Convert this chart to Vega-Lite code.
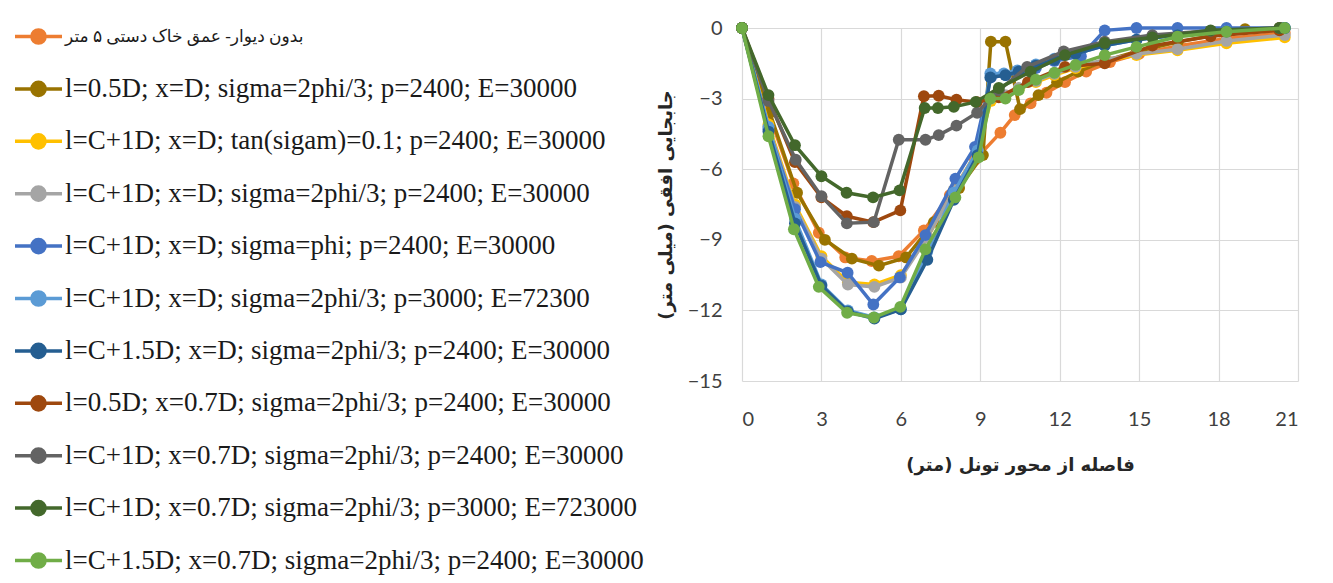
{
  "$schema": "https://vega.github.io/schema/vega-lite/v6.json",
  "width": 556,
  "height": 353,
  "autosize": {"type": "none"},
  "padding": {"left": 742, "top": 28, "right": 35, "bottom": 202},
  "background": "white",
  "config": {
    "view": {"stroke": null},
    "axis": {"gridColor": "#D9D9D9", "gridWidth": 1.2, "domain": false, "ticks": false, "labelFont": "Lato", "labelFontSize": 20, "labelColor": "#404040", "titleFont": "DejaVu Sans", "titleColor": "#262626"}
  },
  "datasets": {
    "d": [
      {"k":1,"s":"بدون دیوار- عمق خاک دستی ۵ متر","x":0,"y":0},{"k":1,"s":"بدون دیوار- عمق خاک دستی ۵ متر","x":0.97,"y":-3.5},{"k":1,"s":"بدون دیوار- عمق خاک دستی ۵ متر","x":1.94,"y":-6.6},{"k":1,"s":"بدون دیوار- عمق خاک دستی ۵ متر","x":2.9,"y":-8.7},{"k":1,"s":"بدون دیوار- عمق خاک دستی ۵ متر","x":3.9,"y":-9.75},{"k":1,"s":"بدون دیوار- عمق خاک دستی ۵ متر","x":4.9,"y":-9.9},{"k":1,"s":"بدون دیوار- عمق خاک دستی ۵ متر","x":5.92,"y":-9.7},{"k":1,"s":"بدون دیوار- عمق خاک دستی ۵ متر","x":6.87,"y":-8.6},{"k":1,"s":"بدون دیوار- عمق خاک دستی ۵ متر","x":7.85,"y":-7.1},{"k":1,"s":"بدون دیوار- عمق خاک دستی ۵ متر","x":8.8,"y":-5.6},{"k":1,"s":"بدون دیوار- عمق خاک دستی ۵ متر","x":9.76,"y":-4.45},{"k":1,"s":"بدون دیوار- عمق خاک دستی ۵ متر","x":10.3,"y":-3.7},{"k":1,"s":"بدون دیوار- عمق خاک دستی ۵ متر","x":10.9,"y":-3.2},{"k":1,"s":"بدون دیوار- عمق خاک دستی ۵ متر","x":11.5,"y":-2.75},{"k":1,"s":"بدون دیوار- عمق خاک دستی ۵ متر","x":12.2,"y":-2.3},{"k":1,"s":"بدون دیوار- عمق خاک دستی ۵ متر","x":13,"y":-1.85},{"k":1,"s":"بدون دیوار- عمق خاک دستی ۵ متر","x":13.9,"y":-1.45},{"k":1,"s":"بدون دیوار- عمق خاک دستی ۵ متر","x":15,"y":-1.1},{"k":1,"s":"بدون دیوار- عمق خاک دستی ۵ متر","x":16.5,"y":-0.75},{"k":1,"s":"بدون دیوار- عمق خاک دستی ۵ متر","x":18.3,"y":-0.45},{"k":1,"s":"بدون دیوار- عمق خاک دستی ۵ متر","x":20.5,"y":-0.2},

      {"k":2,"s":"l=0.5D; x=D; sigma=2phi/3; p=2400; E=30000","x":0,"y":0},{"k":2,"s":"l=0.5D; x=D; sigma=2phi/3; p=2400; E=30000","x":1.05,"y":-3.6},{"k":2,"s":"l=0.5D; x=D; sigma=2phi/3; p=2400; E=30000","x":2.08,"y":-7.0},{"k":2,"s":"l=0.5D; x=D; sigma=2phi/3; p=2400; E=30000","x":3.13,"y":-9.0},{"k":2,"s":"l=0.5D; x=D; sigma=2phi/3; p=2400; E=30000","x":4.15,"y":-9.8},{"k":2,"s":"l=0.5D; x=D; sigma=2phi/3; p=2400; E=30000","x":5.17,"y":-10.1},{"k":2,"s":"l=0.5D; x=D; sigma=2phi/3; p=2400; E=30000","x":6.2,"y":-9.75},{"k":2,"s":"l=0.5D; x=D; sigma=2phi/3; p=2400; E=30000","x":7.25,"y":-8.25},{"k":2,"s":"l=0.5D; x=D; sigma=2phi/3; p=2400; E=30000","x":8.2,"y":-6.8},{"k":2,"s":"l=0.5D; x=D; sigma=2phi/3; p=2400; E=30000","x":9.1,"y":-5.4},{"k":2,"s":"l=0.5D; x=D; sigma=2phi/3; p=2400; E=30000","x":9.4,"y":-0.58},{"k":2,"s":"l=0.5D; x=D; sigma=2phi/3; p=2400; E=30000","x":9.95,"y":-0.58},{"k":2,"s":"l=0.5D; x=D; sigma=2phi/3; p=2400; E=30000","x":10.5,"y":-3.45},{"k":2,"s":"l=0.5D; x=D; sigma=2phi/3; p=2400; E=30000","x":11.2,"y":-2.85},{"k":2,"s":"l=0.5D; x=D; sigma=2phi/3; p=2400; E=30000","x":11.9,"y":-2.3},{"k":2,"s":"l=0.5D; x=D; sigma=2phi/3; p=2400; E=30000","x":12.7,"y":-1.85},{"k":2,"s":"l=0.5D; x=D; sigma=2phi/3; p=2400; E=30000","x":13.7,"y":-1.4},{"k":2,"s":"l=0.5D; x=D; sigma=2phi/3; p=2400; E=30000","x":14.9,"y":-1.0},{"k":2,"s":"l=0.5D; x=D; sigma=2phi/3; p=2400; E=30000","x":16.45,"y":-0.6},{"k":2,"s":"l=0.5D; x=D; sigma=2phi/3; p=2400; E=30000","x":19.0,"y":-0.05},{"k":2,"s":"l=0.5D; x=D; sigma=2phi/3; p=2400; E=30000","x":20.3,"y":0},

      {"k":3,"s":"l=C+1D; x=D; tan(sigam)=0.1;  p=2400; E=30000","x":0,"y":0},{"k":3,"s":"l=C+1D; x=D; tan(sigam)=0.1;  p=2400; E=30000","x":1,"y":-4.1},{"k":3,"s":"l=C+1D; x=D; tan(sigam)=0.1;  p=2400; E=30000","x":2,"y":-7.5},{"k":3,"s":"l=C+1D; x=D; tan(sigam)=0.1;  p=2400; E=30000","x":3,"y":-9.7},{"k":3,"s":"l=C+1D; x=D; tan(sigam)=0.1;  p=2400; E=30000","x":4,"y":-10.8},{"k":3,"s":"l=C+1D; x=D; tan(sigam)=0.1;  p=2400; E=30000","x":5,"y":-10.9},{"k":3,"s":"l=C+1D; x=D; tan(sigam)=0.1;  p=2400; E=30000","x":6,"y":-10.5},{"k":3,"s":"l=C+1D; x=D; tan(sigam)=0.1;  p=2400; E=30000","x":7,"y":-8.9},{"k":3,"s":"l=C+1D; x=D; tan(sigam)=0.1;  p=2400; E=30000","x":8,"y":-6.9},{"k":3,"s":"l=C+1D; x=D; tan(sigam)=0.1;  p=2400; E=30000","x":8.9,"y":-5.2},{"k":3,"s":"l=C+1D; x=D; tan(sigam)=0.1;  p=2400; E=30000","x":9.4,"y":-3.1},{"k":3,"s":"l=C+1D; x=D; tan(sigam)=0.1;  p=2400; E=30000","x":9.95,"y":-2.9},{"k":3,"s":"l=C+1D; x=D; tan(sigam)=0.1;  p=2400; E=30000","x":10.45,"y":-2.6},{"k":3,"s":"l=C+1D; x=D; tan(sigam)=0.1;  p=2400; E=30000","x":11.1,"y":-2.3},{"k":3,"s":"l=C+1D; x=D; tan(sigam)=0.1;  p=2400; E=30000","x":11.8,"y":-2.0},{"k":3,"s":"l=C+1D; x=D; tan(sigam)=0.1;  p=2400; E=30000","x":12.6,"y":-1.7},{"k":3,"s":"l=C+1D; x=D; tan(sigam)=0.1;  p=2400; E=30000","x":13.7,"y":-1.4},{"k":3,"s":"l=C+1D; x=D; tan(sigam)=0.1;  p=2400; E=30000","x":14.9,"y":-1.15},{"k":3,"s":"l=C+1D; x=D; tan(sigam)=0.1;  p=2400; E=30000","x":16.45,"y":-0.95},{"k":3,"s":"l=C+1D; x=D; tan(sigam)=0.1;  p=2400; E=30000","x":18.3,"y":-0.65},{"k":3,"s":"l=C+1D; x=D; tan(sigam)=0.1;  p=2400; E=30000","x":20.5,"y":-0.4},

      {"k":4,"s":"l=C+1D; x=D; sigma=2phi/3;  p=2400; E=30000","x":0,"y":0},{"k":4,"s":"l=C+1D; x=D; sigma=2phi/3;  p=2400; E=30000","x":1,"y":-4.2},{"k":4,"s":"l=C+1D; x=D; sigma=2phi/3;  p=2400; E=30000","x":2,"y":-7.6},{"k":4,"s":"l=C+1D; x=D; sigma=2phi/3;  p=2400; E=30000","x":3,"y":-9.8},{"k":4,"s":"l=C+1D; x=D; sigma=2phi/3;  p=2400; E=30000","x":4,"y":-10.9},{"k":4,"s":"l=C+1D; x=D; sigma=2phi/3;  p=2400; E=30000","x":5,"y":-11.0},{"k":4,"s":"l=C+1D; x=D; sigma=2phi/3;  p=2400; E=30000","x":6,"y":-10.6},{"k":4,"s":"l=C+1D; x=D; sigma=2phi/3;  p=2400; E=30000","x":7,"y":-8.9},{"k":4,"s":"l=C+1D; x=D; sigma=2phi/3;  p=2400; E=30000","x":8,"y":-6.9},{"k":4,"s":"l=C+1D; x=D; sigma=2phi/3;  p=2400; E=30000","x":8.9,"y":-5.2},{"k":4,"s":"l=C+1D; x=D; sigma=2phi/3;  p=2400; E=30000","x":9.4,"y":-3.0},{"k":4,"s":"l=C+1D; x=D; sigma=2phi/3;  p=2400; E=30000","x":9.95,"y":-2.85},{"k":4,"s":"l=C+1D; x=D; sigma=2phi/3;  p=2400; E=30000","x":10.45,"y":-2.55},{"k":4,"s":"l=C+1D; x=D; sigma=2phi/3;  p=2400; E=30000","x":11.1,"y":-2.25},{"k":4,"s":"l=C+1D; x=D; sigma=2phi/3;  p=2400; E=30000","x":11.8,"y":-1.95},{"k":4,"s":"l=C+1D; x=D; sigma=2phi/3;  p=2400; E=30000","x":12.6,"y":-1.65},{"k":4,"s":"l=C+1D; x=D; sigma=2phi/3;  p=2400; E=30000","x":13.7,"y":-1.35},{"k":4,"s":"l=C+1D; x=D; sigma=2phi/3;  p=2400; E=30000","x":14.9,"y":-1.1},{"k":4,"s":"l=C+1D; x=D; sigma=2phi/3;  p=2400; E=30000","x":16.45,"y":-0.9},{"k":4,"s":"l=C+1D; x=D; sigma=2phi/3;  p=2400; E=30000","x":18.3,"y":-0.55},{"k":4,"s":"l=C+1D; x=D; sigma=2phi/3;  p=2400; E=30000","x":20.5,"y":-0.3},

      {"k":5,"s":"l=C+1D; x=D; sigma=phi;  p=2400; E=30000","x":0,"y":0},{"k":5,"s":"l=C+1D; x=D; sigma=phi;  p=2400; E=30000","x":1,"y":-4.3},{"k":5,"s":"l=C+1D; x=D; sigma=phi;  p=2400; E=30000","x":2,"y":-7.7},{"k":5,"s":"l=C+1D; x=D; sigma=phi;  p=2400; E=30000","x":2.96,"y":-9.95},{"k":5,"s":"l=C+1D; x=D; sigma=phi;  p=2400; E=30000","x":3.99,"y":-10.4},{"k":5,"s":"l=C+1D; x=D; sigma=phi;  p=2400; E=30000","x":4.96,"y":-11.75},{"k":5,"s":"l=C+1D; x=D; sigma=phi;  p=2400; E=30000","x":5.96,"y":-10.6},{"k":5,"s":"l=C+1D; x=D; sigma=phi;  p=2400; E=30000","x":6.93,"y":-8.8},{"k":5,"s":"l=C+1D; x=D; sigma=phi;  p=2400; E=30000","x":8.06,"y":-6.4},{"k":5,"s":"l=C+1D; x=D; sigma=phi;  p=2400; E=30000","x":8.8,"y":-5.05},{"k":5,"s":"l=C+1D; x=D; sigma=phi;  p=2400; E=30000","x":9.4,"y":-2.1},{"k":5,"s":"l=C+1D; x=D; sigma=phi;  p=2400; E=30000","x":9.95,"y":-2.0},{"k":5,"s":"l=C+1D; x=D; sigma=phi;  p=2400; E=30000","x":10.45,"y":-1.9},{"k":5,"s":"l=C+1D; x=D; sigma=phi;  p=2400; E=30000","x":11.1,"y":-1.7},{"k":5,"s":"l=C+1D; x=D; sigma=phi;  p=2400; E=30000","x":11.8,"y":-1.4},{"k":5,"s":"l=C+1D; x=D; sigma=phi;  p=2400; E=30000","x":12.8,"y":-1.2},{"k":5,"s":"l=C+1D; x=D; sigma=phi;  p=2400; E=30000","x":13.7,"y":-0.1},{"k":5,"s":"l=C+1D; x=D; sigma=phi;  p=2400; E=30000","x":14.9,"y":0},{"k":5,"s":"l=C+1D; x=D; sigma=phi;  p=2400; E=30000","x":16.45,"y":0},{"k":5,"s":"l=C+1D; x=D; sigma=phi;  p=2400; E=30000","x":18.3,"y":0},{"k":5,"s":"l=C+1D; x=D; sigma=phi;  p=2400; E=30000","x":20.5,"y":0},

      {"k":6,"s":"l=C+1D; x=D; sigma=2phi/3; p=3000; E=72300","x":0,"y":0},{"k":6,"s":"l=C+1D; x=D; sigma=2phi/3; p=3000; E=72300","x":1,"y":-4.2},{"k":6,"s":"l=C+1D; x=D; sigma=2phi/3; p=3000; E=72300","x":2,"y":-8.1},{"k":6,"s":"l=C+1D; x=D; sigma=2phi/3; p=3000; E=72300","x":3,"y":-10.9},{"k":6,"s":"l=C+1D; x=D; sigma=2phi/3; p=3000; E=72300","x":4,"y":-12.0},{"k":6,"s":"l=C+1D; x=D; sigma=2phi/3; p=3000; E=72300","x":5,"y":-12.3},{"k":6,"s":"l=C+1D; x=D; sigma=2phi/3; p=3000; E=72300","x":6,"y":-11.95},{"k":6,"s":"l=C+1D; x=D; sigma=2phi/3; p=3000; E=72300","x":7,"y":-9.5},{"k":6,"s":"l=C+1D; x=D; sigma=2phi/3; p=3000; E=72300","x":8,"y":-7.0},{"k":6,"s":"l=C+1D; x=D; sigma=2phi/3; p=3000; E=72300","x":8.9,"y":-5.2},{"k":6,"s":"l=C+1D; x=D; sigma=2phi/3; p=3000; E=72300","x":9.38,"y":-1.93},{"k":6,"s":"l=C+1D; x=D; sigma=2phi/3; p=3000; E=72300","x":9.89,"y":-1.93},{"k":6,"s":"l=C+1D; x=D; sigma=2phi/3; p=3000; E=72300","x":10.4,"y":-1.8},{"k":6,"s":"l=C+1D; x=D; sigma=2phi/3; p=3000; E=72300","x":11.1,"y":-1.55},{"k":6,"s":"l=C+1D; x=D; sigma=2phi/3; p=3000; E=72300","x":11.8,"y":-1.3},{"k":6,"s":"l=C+1D; x=D; sigma=2phi/3; p=3000; E=72300","x":12.6,"y":-1.1},{"k":6,"s":"l=C+1D; x=D; sigma=2phi/3; p=3000; E=72300","x":13.7,"y":-0.75},{"k":6,"s":"l=C+1D; x=D; sigma=2phi/3; p=3000; E=72300","x":14.9,"y":-0.5},{"k":6,"s":"l=C+1D; x=D; sigma=2phi/3; p=3000; E=72300","x":16.45,"y":-0.3},{"k":6,"s":"l=C+1D; x=D; sigma=2phi/3; p=3000; E=72300","x":18.3,"y":-0.12},{"k":6,"s":"l=C+1D; x=D; sigma=2phi/3; p=3000; E=72300","x":20.5,"y":0},

      {"k":7,"s":"l=C+1.5D; x=D; sigma=2phi/3; p=2400; E=30000","x":0,"y":0},{"k":7,"s":"l=C+1.5D; x=D; sigma=2phi/3; p=2400; E=30000","x":1,"y":-4.4},{"k":7,"s":"l=C+1.5D; x=D; sigma=2phi/3; p=2400; E=30000","x":2,"y":-8.3},{"k":7,"s":"l=C+1.5D; x=D; sigma=2phi/3; p=2400; E=30000","x":3,"y":-10.95},{"k":7,"s":"l=C+1.5D; x=D; sigma=2phi/3; p=2400; E=30000","x":4,"y":-12.05},{"k":7,"s":"l=C+1.5D; x=D; sigma=2phi/3; p=2400; E=30000","x":5,"y":-12.35},{"k":7,"s":"l=C+1.5D; x=D; sigma=2phi/3; p=2400; E=30000","x":6,"y":-11.95},{"k":7,"s":"l=C+1.5D; x=D; sigma=2phi/3; p=2400; E=30000","x":7,"y":-9.85},{"k":7,"s":"l=C+1.5D; x=D; sigma=2phi/3; p=2400; E=30000","x":8,"y":-7.3},{"k":7,"s":"l=C+1.5D; x=D; sigma=2phi/3; p=2400; E=30000","x":8.9,"y":-5.4},{"k":7,"s":"l=C+1.5D; x=D; sigma=2phi/3; p=2400; E=30000","x":9.38,"y":-2.1},{"k":7,"s":"l=C+1.5D; x=D; sigma=2phi/3; p=2400; E=30000","x":9.95,"y":-2.0},{"k":7,"s":"l=C+1.5D; x=D; sigma=2phi/3; p=2400; E=30000","x":10.45,"y":-1.85},{"k":7,"s":"l=C+1.5D; x=D; sigma=2phi/3; p=2400; E=30000","x":11.1,"y":-1.6},{"k":7,"s":"l=C+1.5D; x=D; sigma=2phi/3; p=2400; E=30000","x":11.8,"y":-1.35},{"k":7,"s":"l=C+1.5D; x=D; sigma=2phi/3; p=2400; E=30000","x":12.6,"y":-1.1},{"k":7,"s":"l=C+1.5D; x=D; sigma=2phi/3; p=2400; E=30000","x":13.7,"y":-0.75},{"k":7,"s":"l=C+1.5D; x=D; sigma=2phi/3; p=2400; E=30000","x":14.9,"y":-0.5},{"k":7,"s":"l=C+1.5D; x=D; sigma=2phi/3; p=2400; E=30000","x":16.45,"y":-0.3},{"k":7,"s":"l=C+1.5D; x=D; sigma=2phi/3; p=2400; E=30000","x":18.3,"y":-0.15},{"k":7,"s":"l=C+1.5D; x=D; sigma=2phi/3; p=2400; E=30000","x":20.5,"y":0},

      {"k":8,"s":"l=0.5D; x=0.7D; sigma=2phi/3;  p=2400; E=30000","x":0,"y":0},{"k":8,"s":"l=0.5D; x=0.7D; sigma=2phi/3;  p=2400; E=30000","x":1,"y":-3.0},{"k":8,"s":"l=0.5D; x=0.7D; sigma=2phi/3;  p=2400; E=30000","x":2,"y":-5.7},{"k":8,"s":"l=0.5D; x=0.7D; sigma=2phi/3;  p=2400; E=30000","x":3,"y":-7.2},{"k":8,"s":"l=0.5D; x=0.7D; sigma=2phi/3;  p=2400; E=30000","x":3.96,"y":-8.0},{"k":8,"s":"l=0.5D; x=0.7D; sigma=2phi/3;  p=2400; E=30000","x":4.96,"y":-8.25},{"k":8,"s":"l=0.5D; x=0.7D; sigma=2phi/3;  p=2400; E=30000","x":5.98,"y":-7.75},{"k":8,"s":"l=0.5D; x=0.7D; sigma=2phi/3;  p=2400; E=30000","x":6.87,"y":-2.9},{"k":8,"s":"l=0.5D; x=0.7D; sigma=2phi/3;  p=2400; E=30000","x":7.43,"y":-2.88},{"k":8,"s":"l=0.5D; x=0.7D; sigma=2phi/3;  p=2400; E=30000","x":8.1,"y":-3.05},{"k":8,"s":"l=0.5D; x=0.7D; sigma=2phi/3;  p=2400; E=30000","x":8.87,"y":-3.15},{"k":8,"s":"l=0.5D; x=0.7D; sigma=2phi/3;  p=2400; E=30000","x":9.7,"y":-2.95},{"k":8,"s":"l=0.5D; x=0.7D; sigma=2phi/3;  p=2400; E=30000","x":10.8,"y":-2.3},{"k":8,"s":"l=0.5D; x=0.7D; sigma=2phi/3;  p=2400; E=30000","x":12.2,"y":-1.65},{"k":8,"s":"l=0.5D; x=0.7D; sigma=2phi/3;  p=2400; E=30000","x":13.7,"y":-1.5},{"k":8,"s":"l=0.5D; x=0.7D; sigma=2phi/3;  p=2400; E=30000","x":15.5,"y":-0.75},{"k":8,"s":"l=0.5D; x=0.7D; sigma=2phi/3;  p=2400; E=30000","x":17.7,"y":-0.35},{"k":8,"s":"l=0.5D; x=0.7D; sigma=2phi/3;  p=2400; E=30000","x":20.3,"y":-0.1},

      {"k":9,"s":"l=C+1D; x=0.7D; sigma=2phi/3;  p=2400; E=30000","x":0,"y":0},{"k":9,"s":"l=C+1D; x=0.7D; sigma=2phi/3;  p=2400; E=30000","x":1,"y":-3.1},{"k":9,"s":"l=C+1D; x=0.7D; sigma=2phi/3;  p=2400; E=30000","x":2.03,"y":-5.6},{"k":9,"s":"l=C+1D; x=0.7D; sigma=2phi/3;  p=2400; E=30000","x":3,"y":-7.15},{"k":9,"s":"l=C+1D; x=0.7D; sigma=2phi/3;  p=2400; E=30000","x":3.96,"y":-8.3},{"k":9,"s":"l=C+1D; x=0.7D; sigma=2phi/3;  p=2400; E=30000","x":4.98,"y":-8.25},{"k":9,"s":"l=C+1D; x=0.7D; sigma=2phi/3;  p=2400; E=30000","x":5.92,"y":-4.75},{"k":9,"s":"l=C+1D; x=0.7D; sigma=2phi/3;  p=2400; E=30000","x":6.93,"y":-4.75},{"k":9,"s":"l=C+1D; x=0.7D; sigma=2phi/3;  p=2400; E=30000","x":7.43,"y":-4.55},{"k":9,"s":"l=C+1D; x=0.7D; sigma=2phi/3;  p=2400; E=30000","x":8.1,"y":-4.15},{"k":9,"s":"l=C+1D; x=0.7D; sigma=2phi/3;  p=2400; E=30000","x":8.88,"y":-3.6},{"k":9,"s":"l=C+1D; x=0.7D; sigma=2phi/3;  p=2400; E=30000","x":9.7,"y":-2.65},{"k":9,"s":"l=C+1D; x=0.7D; sigma=2phi/3;  p=2400; E=30000","x":10.77,"y":-1.65},{"k":9,"s":"l=C+1D; x=0.7D; sigma=2phi/3;  p=2400; E=30000","x":12.15,"y":-1.0},{"k":9,"s":"l=C+1D; x=0.7D; sigma=2phi/3;  p=2400; E=30000","x":13.7,"y":-0.58},{"k":9,"s":"l=C+1D; x=0.7D; sigma=2phi/3;  p=2400; E=30000","x":15.5,"y":-0.3},{"k":9,"s":"l=C+1D; x=0.7D; sigma=2phi/3;  p=2400; E=30000","x":17.7,"y":-0.12},{"k":9,"s":"l=C+1D; x=0.7D; sigma=2phi/3;  p=2400; E=30000","x":20.3,"y":0},

      {"k":10,"s":"l=C+1D; x=0.7D; sigma=2phi/3; p=3000; E=723000","x":0,"y":0},{"k":10,"s":"l=C+1D; x=0.7D; sigma=2phi/3; p=3000; E=723000","x":1,"y":-2.85},{"k":10,"s":"l=C+1D; x=0.7D; sigma=2phi/3; p=3000; E=723000","x":2,"y":-4.98},{"k":10,"s":"l=C+1D; x=0.7D; sigma=2phi/3; p=3000; E=723000","x":3,"y":-6.3},{"k":10,"s":"l=C+1D; x=0.7D; sigma=2phi/3; p=3000; E=723000","x":3.95,"y":-7.0},{"k":10,"s":"l=C+1D; x=0.7D; sigma=2phi/3; p=3000; E=723000","x":4.95,"y":-7.2},{"k":10,"s":"l=C+1D; x=0.7D; sigma=2phi/3; p=3000; E=723000","x":5.95,"y":-6.9},{"k":10,"s":"l=C+1D; x=0.7D; sigma=2phi/3; p=3000; E=723000","x":6.9,"y":-3.4},{"k":10,"s":"l=C+1D; x=0.7D; sigma=2phi/3; p=3000; E=723000","x":7.4,"y":-3.4},{"k":10,"s":"l=C+1D; x=0.7D; sigma=2phi/3; p=3000; E=723000","x":8.0,"y":-3.35},{"k":10,"s":"l=C+1D; x=0.7D; sigma=2phi/3; p=3000; E=723000","x":8.83,"y":-3.14},{"k":10,"s":"l=C+1D; x=0.7D; sigma=2phi/3; p=3000; E=723000","x":9.7,"y":-2.55},{"k":10,"s":"l=C+1D; x=0.7D; sigma=2phi/3; p=3000; E=723000","x":10.9,"y":-1.86},{"k":10,"s":"l=C+1D; x=0.7D; sigma=2phi/3; p=3000; E=723000","x":12.2,"y":-1.15},{"k":10,"s":"l=C+1D; x=0.7D; sigma=2phi/3; p=3000; E=723000","x":13.7,"y":-0.64},{"k":10,"s":"l=C+1D; x=0.7D; sigma=2phi/3; p=3000; E=723000","x":15.5,"y":-0.4},{"k":10,"s":"l=C+1D; x=0.7D; sigma=2phi/3; p=3000; E=723000","x":17.7,"y":-0.1},{"k":10,"s":"l=C+1D; x=0.7D; sigma=2phi/3; p=3000; E=723000","x":20.3,"y":0},

      {"k":11,"s":"l=C+1.5D; x=0.7D; sigma=2phi/3; p=2400; E=30000","x":0,"y":0},{"k":11,"s":"l=C+1.5D; x=0.7D; sigma=2phi/3; p=2400; E=30000","x":1,"y":-4.6},{"k":11,"s":"l=C+1.5D; x=0.7D; sigma=2phi/3; p=2400; E=30000","x":1.96,"y":-8.55},{"k":11,"s":"l=C+1.5D; x=0.7D; sigma=2phi/3; p=2400; E=30000","x":2.9,"y":-11.0},{"k":11,"s":"l=C+1.5D; x=0.7D; sigma=2phi/3; p=2400; E=30000","x":3.97,"y":-12.1},{"k":11,"s":"l=C+1.5D; x=0.7D; sigma=2phi/3; p=2400; E=30000","x":4.98,"y":-12.3},{"k":11,"s":"l=C+1.5D; x=0.7D; sigma=2phi/3; p=2400; E=30000","x":5.98,"y":-11.85},{"k":11,"s":"l=C+1.5D; x=0.7D; sigma=2phi/3; p=2400; E=30000","x":6.93,"y":-9.4},{"k":11,"s":"l=C+1.5D; x=0.7D; sigma=2phi/3; p=2400; E=30000","x":8.06,"y":-7.2},{"k":11,"s":"l=C+1.5D; x=0.7D; sigma=2phi/3; p=2400; E=30000","x":8.94,"y":-5.5},{"k":11,"s":"l=C+1.5D; x=0.7D; sigma=2phi/3; p=2400; E=30000","x":9.38,"y":-3.0},{"k":11,"s":"l=C+1.5D; x=0.7D; sigma=2phi/3; p=2400; E=30000","x":9.95,"y":-3.0},{"k":11,"s":"l=C+1.5D; x=0.7D; sigma=2phi/3; p=2400; E=30000","x":10.45,"y":-2.64},{"k":11,"s":"l=C+1.5D; x=0.7D; sigma=2phi/3; p=2400; E=30000","x":11.1,"y":-2.2},{"k":11,"s":"l=C+1.5D; x=0.7D; sigma=2phi/3; p=2400; E=30000","x":11.8,"y":-1.9},{"k":11,"s":"l=C+1.5D; x=0.7D; sigma=2phi/3; p=2400; E=30000","x":12.6,"y":-1.57},{"k":11,"s":"l=C+1.5D; x=0.7D; sigma=2phi/3; p=2400; E=30000","x":13.7,"y":-1.15},{"k":11,"s":"l=C+1.5D; x=0.7D; sigma=2phi/3; p=2400; E=30000","x":14.9,"y":-0.8},{"k":11,"s":"l=C+1.5D; x=0.7D; sigma=2phi/3; p=2400; E=30000","x":16.45,"y":-0.37},{"k":11,"s":"l=C+1.5D; x=0.7D; sigma=2phi/3; p=2400; E=30000","x":18.3,"y":-0.16},{"k":11,"s":"l=C+1.5D; x=0.7D; sigma=2phi/3; p=2400; E=30000","x":20.5,"y":0}
    ]
  },
  "data": {"name": "d"},
  "encoding": {
    "x": {"field": "x", "type": "quantitative", "scale": {"domain": [0, 21], "nice": false}, "axis": {"values": [0,3,6,9,12,15,18,21], "labelPadding": 28, "title": "فاصله از محور تونل (متر)", "titleFontSize": 18, "titleFontWeight": "bold", "titlePadding": 27}},
    "y": {"field": "y", "type": "quantitative", "scale": {"domain": [-15, 0], "nice": false}, "axis": {"values": [-15,-12,-9,-6,-3,0], "labelPadding": 20, "title": "جابجایی افقی (میلی متر)", "titleFontSize": 18, "titleFontWeight": "bold", "titlePadding": 12}},
    "color": {
      "field": "s", "type": "nominal",
      "scale": {
        "domain": ["بدون دیوار- عمق خاک دستی ۵ متر","l=0.5D; x=D; sigma=2phi/3; p=2400; E=30000","l=C+1D; x=D; tan(sigam)=0.1;  p=2400; E=30000","l=C+1D; x=D; sigma=2phi/3;  p=2400; E=30000","l=C+1D; x=D; sigma=phi;  p=2400; E=30000","l=C+1D; x=D; sigma=2phi/3; p=3000; E=72300","l=C+1.5D; x=D; sigma=2phi/3; p=2400; E=30000","l=0.5D; x=0.7D; sigma=2phi/3;  p=2400; E=30000","l=C+1D; x=0.7D; sigma=2phi/3;  p=2400; E=30000","l=C+1D; x=0.7D; sigma=2phi/3; p=3000; E=723000","l=C+1.5D; x=0.7D; sigma=2phi/3; p=2400; E=30000"],
        "range": ["#ED7D31","#997300","#FFC000","#A5A5A5","#4472C4","#5B9BD5","#255E91","#9E480E","#636363","#43682B","#70AD47"]
      },
      "legend": {
        "orient": "none", "legendX": -729, "legendY": -17, "title": null, "padding": 0,
        "symbolType": "M-1,0L1,0M0.28,0A0.28,0.28,0,1,1,-0.28,0A0.28,0.28,0,1,1,0.28,0",
        "symbolSize": 2209, "symbolStrokeWidth": 3.5, "symbolOpacity": 1,
        "labelFont": "Liberation Serif, DejaVu Sans", "labelFontSize": 27, "labelColor": "#1a1a1a", "labelLimit": 800, "labelOffset": 1,
        "rowPadding": 12.4,
        "encode": {
          "symbols": {"update": {"fill": {"scale": "color", "field": "value"}, "stroke": {"scale": "color", "field": "value"}}},
          "labels": {"update": {"fontSize": {"signal": "test(/^l=/, datum.label) ? 27 : 17"}, "fontWeight": {"value": "normal"}}}
        }
      }
    }
  },
  "layer": [
    {"transform": [{"filter": {"field": "k", "equal": 1}}], "mark": {"type": "line", "strokeWidth": 3.5, "point": {"filled": true, "size": 140, "opacity": 1}}},
    {"transform": [{"filter": {"field": "k", "equal": 2}}], "mark": {"type": "line", "strokeWidth": 3.5, "point": {"filled": true, "size": 140, "opacity": 1}}},
    {"transform": [{"filter": {"field": "k", "equal": 3}}], "mark": {"type": "line", "strokeWidth": 3.5, "point": {"filled": true, "size": 140, "opacity": 1}}},
    {"transform": [{"filter": {"field": "k", "equal": 4}}], "mark": {"type": "line", "strokeWidth": 3.5, "point": {"filled": true, "size": 140, "opacity": 1}}},
    {"transform": [{"filter": {"field": "k", "equal": 5}}], "mark": {"type": "line", "strokeWidth": 3.5, "point": {"filled": true, "size": 140, "opacity": 1}}},
    {"transform": [{"filter": {"field": "k", "equal": 6}}], "mark": {"type": "line", "strokeWidth": 3.5, "point": {"filled": true, "size": 140, "opacity": 1}}},
    {"transform": [{"filter": {"field": "k", "equal": 7}}], "mark": {"type": "line", "strokeWidth": 3.5, "point": {"filled": true, "size": 140, "opacity": 1}}},
    {"transform": [{"filter": {"field": "k", "equal": 8}}], "mark": {"type": "line", "strokeWidth": 3.5, "point": {"filled": true, "size": 140, "opacity": 1}}},
    {"transform": [{"filter": {"field": "k", "equal": 9}}], "mark": {"type": "line", "strokeWidth": 3.5, "point": {"filled": true, "size": 140, "opacity": 1}}},
    {"transform": [{"filter": {"field": "k", "equal": 10}}], "mark": {"type": "line", "strokeWidth": 3.5, "point": {"filled": true, "size": 140, "opacity": 1}}},
    {"transform": [{"filter": {"field": "k", "equal": 11}}], "mark": {"type": "line", "strokeWidth": 3.5, "point": {"filled": true, "size": 140, "opacity": 1}}}
  ]
}
